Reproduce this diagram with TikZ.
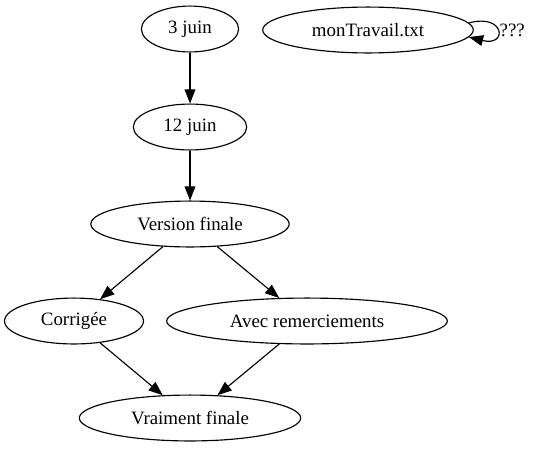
\documentclass[tikz,border=0pt]{standalone}
\usepackage{fontspec}
\setmainfont{Liberation Serif}
\usetikzlibrary{shapes.geometric,arrows.meta}

\begin{document}
\begin{tikzpicture}[x=0.741pt, y=-0.741pt,
    every node/.style={font=\fontsize{14}{16}\selectfont},
    etat/.style={draw, ellipse, inner sep=0pt, minimum height=34pt, line width=0.85pt},
    fleche/.style={-{Triangle[length=10.5pt,width=8pt]}, line width=0.85pt}]
    \useasboundingbox (0,0) rectangle (535,448);
    %versions
    \node[etat, minimum width=72pt] (d3) at (190,29) {3 juin};
    \node[etat, minimum width=84pt] (d12) at (190,127) {12 juin};
    \node[etat, minimum width=147pt] (vf) at (190,224) {Version finale};
    \node[etat, minimum width=103pt] (cor) at (74,321) {Corrigée};
    \node[etat, minimum width=208pt] (avec) at (307,321) {Avec remerciements};
    \node[etat, minimum width=164pt] (vraim) at (190,418) {Vraiment finale};
    \node[etat, minimum width=156pt] (mon) at (368,30) {monTravail.txt};

    \draw[fleche] (d3) -- (d12);
    \draw[fleche] (d12) -- (vf);
    \draw[fleche] (vf) -- (cor);
    \draw[fleche] (vf) -- (avec);
    \draw[fleche] (cor) -- (vraim);
    \draw[fleche] (avec) -- (vraim);
    \draw[fleche] (mon.4) .. controls (505,13) and (508,47) .. (mon.-4)
        node[pos=0.5, right, inner sep=1.5pt] (q) {???};
\end{tikzpicture}
\end{document}
